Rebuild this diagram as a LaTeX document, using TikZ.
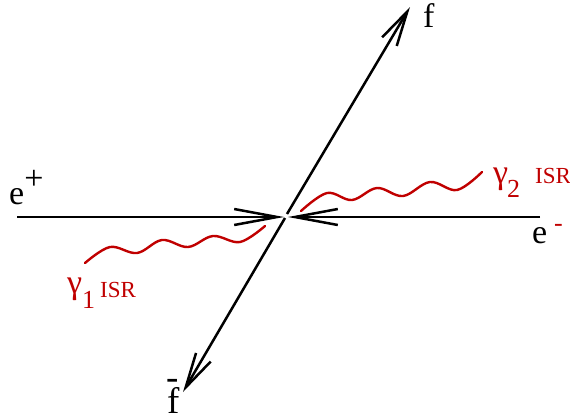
\documentclass[tikz,border=0pt]{standalone}
\usepackage{fontspec}
\setmainfont{Liberation Serif}
\usetikzlibrary{arrows.meta}
\definecolor{isrred}{RGB}{192,0,0}
\tikzset{
  fermion/.style={line width=2.5pt, black},
  hbarb/.style={-{Straight Barb[length=43pt,width=16pt,line width=2.5pt]}},
  dbarb/.style={-{Straight Barb[length=35pt,width=17pt,line width=2.5pt]}},
  photon/.style={line width=2.4pt, isrred, line cap=round},
  lbl/.style={anchor=base west, inner sep=0pt, font=\fontsize{34}{40}\selectfont},
  sublbl/.style={anchor=base west, inner sep=0pt, font=\fontsize{26}{30}\selectfont},
  isrlbl/.style={anchor=base west, inner sep=0pt, font=\fontsize{23}{27}\selectfont},
}
\begin{document}
\begin{tikzpicture}[x=1pt,y=-1pt]
\useasboundingbox (0,0) rectangle (570,416);
% end points
\coordinate (eL) at (17,217);
\coordinate (tipL) at (284,217);
\coordinate (tipR) at (288,217);
\coordinate (eR) at (540,217);
\coordinate (cU) at (287,214);
\coordinate (cD) at (285,218);
\coordinate (fT) at (410,7);
\coordinate (fB) at (183,392);
% fermion lines
\draw[fermion,hbarb] (eL) -- (tipL);
\draw[fermion,hbarb] (eR) -- (tipR);
\draw[fermion,dbarb] (cU) -- (fT);
\draw[fermion,dbarb] (cD) -- (fB);
% photons
\draw[photon] plot[smooth, tension=0.6] coordinates {(85,263) (110,247) (137,253) (162,240) (188,247) (213,236) (240,242) (265,226)};
\draw[photon] plot[smooth, tension=0.6] coordinates {(301,211) (327,193) (352,200) (377,188) (403,196) (430,182) (457,190) (482,172)};
% labels
\node[lbl] (epl) at (9,204) {e\raisebox{0.42em}{+}};
\node[lbl] (emi) at (532,243) {e};
\node[anchor=base west, inner sep=0pt, font=\fontsize{26}{30}\selectfont, text=isrred] (emisign) at (554,231) {-};
\node[lbl] (flab) at (423,27) {f};
\node[anchor=base west, inner sep=0pt, font=\fontsize{37}{42}\selectfont] (fbar) at (167,413) {\makebox[0pt][l]{\hspace{-1pt}\raisebox{23.5pt}{-}}f};
\node[lbl, text=isrred] (g1) at (67,293) {γ};
\node[sublbl, text=isrred] (g1s) at (82,308) {1};
\node[isrlbl, text=isrred] (isr1) at (100,297) {ISR};
\node[lbl, text=isrred] (g2) at (493,183) {γ};
\node[sublbl, text=isrred] (g2s) at (507,197) {2};
\node[isrlbl, text=isrred] (isr2) at (535,183) {ISR};
\end{tikzpicture}
\end{document}
